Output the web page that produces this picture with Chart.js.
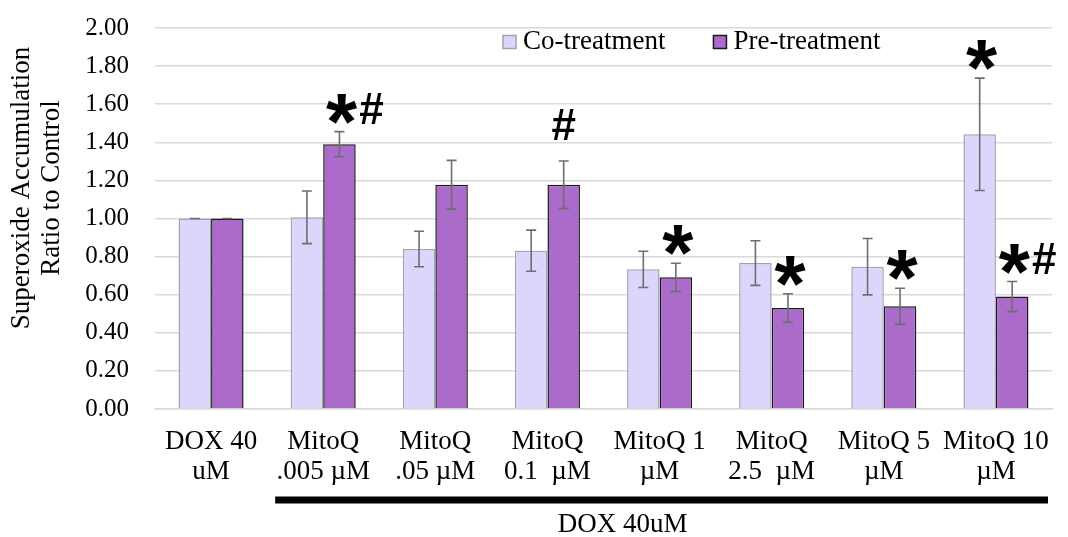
<!DOCTYPE html>
<html>
<head>
<meta charset="utf-8">
<script src="https://cdn.jsdelivr.net/npm/chart.js@4"></script>
<style>
  body { margin: 0; background: #fff; }
  #wrap { width: 1068px; height: 537px; }
</style>
</head>
<body>
<div id="wrap"><canvas id="grafico" width="1068" height="537"></canvas></div>
<script>
// dados
var categorias = [
    ["DOX 40", "uM"],
    ["MitoQ", ".005 \u00b5M"],
    ["MitoQ", ".05 \u00b5M"],
    ["MitoQ", "0.1  \u00b5M"],
    ["MitoQ 1", "\u00b5M"],
    ["MitoQ", "2.5  \u00b5M"],
    ["MitoQ 5", "\u00b5M"],
    ["MitoQ 10", "\u00b5M"]
];
var coTratamento = [1.00, 1.006, 0.84, 0.831, 0.733, 0.766, 0.747, 1.442];
var coErro = [0, 0.138, 0.093, 0.108, 0.095, 0.117, 0.148, 0.295];
var preTratamento = [1.00, 1.39, 1.177, 1.177, 0.691, 0.530, 0.539, 0.590];
var preErro = [0, 0.066, 0.128, 0.125, 0.074, 0.075, 0.095, 0.079];
var coMarcas = ["", "", "", "", "", "", "", "*"];
var preMarcas = ["", "*#", "", "#", "*", "*", "*", "*#"];
var tituloY = ["Superoxide Accumulation", "Ratio to Control"];
var rotuloGrupo = "DOX 40uM";

var serif = "'Liberation Serif', 'Times New Roman', serif";

// barras de erro + marcas de significancia
var pluginErro = {
    id: "erro",
    afterDatasetsDraw: function(chart) {
        var ctx = chart.ctx;
        var y = chart.scales.y;
        var erros = [coErro, preErro];
        var valores = [coTratamento, preTratamento];
        var marcas = [coMarcas, preMarcas];
        ctx.save();
        for (var d = 0; d < 2; d++) {
            var meta = chart.getDatasetMeta(d);
            meta.data.forEach(function(bar, i) {
                var v = valores[d][i], e = erros[d][i];
                var yt = y.getPixelForValue(v + e);
                var yb = y.getPixelForValue(v - e);
                ctx.strokeStyle = "#6e6e6e";
                ctx.lineWidth = 1.6;
                ctx.beginPath();
                ctx.moveTo(bar.x, yt); ctx.lineTo(bar.x, yb);
                ctx.moveTo(bar.x - 5, yt); ctx.lineTo(bar.x + 5, yt);
                ctx.moveTo(bar.x - 5, yb); ctx.lineTo(bar.x + 5, yb);
                ctx.stroke();

                var m = marcas[d][i];
                if (!m) return;
                var cy = yt - 23;
                if (m === "#") cy = yt - 36;
                var cx = bar.x + (m === "#" ? 0 : 2);
                for (var k = 0; k < m.length; k++) {
                    var ch = m[k];
                    ctx.font = ch === "*" ? "bold 80px 'Liberation Sans', Arial, sans-serif" : "bold 44px 'Liberation Sans', Arial, sans-serif";
                    ctx.fillStyle = "#000";
                    ctx.textAlign = "center";
                    ctx.textBaseline = "alphabetic";
                    var mt = ctx.measureText(ch);
                    var by = cy + (mt.actualBoundingBoxAscent - mt.actualBoundingBoxDescent) / 2;
                    ctx.fillText(ch, cx + k * 30, by);
                }
            });
        }
        ctx.restore();
    },
    afterDraw: function(chart) {
        var ctx = chart.ctx;
        var area = chart.chartArea;
        var x = chart.scales.x;
        ctx.save();
        // titulo do eixo y
        ctx.fillStyle = "#000";
        ctx.font = "27px " + serif;
        ctx.textAlign = "center";
        ctx.textBaseline = "middle";
        tituloY.forEach(function(t, i) {
            ctx.save();
            ctx.translate(22 + i * 30, 188);
            ctx.rotate(-Math.PI / 2);
            ctx.fillText(t, 0, 0);
            ctx.restore();
        });
        // legenda
        var lx = area.left + 348, ly = 42;
        chart.data.datasets.forEach(function(ds) {
            ctx.fillStyle = ds.backgroundColor;
            ctx.fillRect(lx, ly - 6.5, 13, 13);
            ctx.strokeStyle = ds.borderColor;
            ctx.lineWidth = 1.5;
            ctx.strokeRect(lx, ly - 6.5, 13, 13);
            ctx.fillStyle = "#000";
            ctx.font = "27px " + serif;
            ctx.textAlign = "left";
            ctx.fillText(ds.label, lx + 20, ly);
            lx += 20 + ctx.measureText(ds.label).width + 48;
        });
        // barra do grupo DOX
        var x0 = x.getPixelForValue(1) - 48;
        var x1 = area.right - 4;
        ctx.strokeStyle = "#000";
        ctx.lineWidth = 7;
        ctx.beginPath();
        ctx.moveTo(x0, 500); ctx.lineTo(x1, 500);
        ctx.stroke();
        ctx.fillStyle = "#000";
        ctx.font = "27px " + serif;
        ctx.textAlign = "center";
        ctx.fillText(rotuloGrupo, x.getPixelForValue(4) - 37, 525);
        ctx.restore();
    }
};

var ctx = document.getElementById("grafico").getContext("2d");
var grafico = new Chart(ctx, {
    type: "bar",
    data: {
        labels: categorias,
        datasets: [{
            label: "Co-treatment",
            data: coTratamento,
            backgroundColor: "#dcd6fc",
            borderColor: "#a4a2b0",
            borderWidth: 1.5
        }, {
            label: "Pre-treatment",
            data: preTratamento,
            backgroundColor: "#aa6bca",
            borderColor: "#1a1a1a",
            borderWidth: 1.5
        }]
    },
    options: {
        responsive: false,
        animation: false,
        layout: { padding: { top: 28, right: 16, left: 0, bottom: 0 } },
        datasets: { bar: { barPercentage: 1, categoryPercentage: 0.58 } },
        plugins: {
            legend: { display: false },
            tooltip: { enabled: false }
        },
        scales: {
            x: {
                grid: { display: false, drawTicks: false },
                border: { color: "#d9d9d9", width: 1.5 },
                ticks: {
                    color: "#000",
                    padding: 18,
                    maxRotation: 0,
                    autoSkip: false,
                    font: { family: serif, size: 27, lineHeight: 1.1 }
                },
                afterFit: function(s) { s.height = 128; }
            },
            y: {
                min: 0,
                max: 2,
                grid: { color: "#d9d9d9", lineWidth: 1.5, drawTicks: false },
                border: { display: false },
                ticks: {
                    stepSize: 0.2,
                    color: "#000",
                    padding: 26,
                    font: { family: serif, size: 25 },
                    callback: function(v) { return v.toFixed(2); }
                },
                afterFit: function(s) {
                    s.width = 155;
                    s.paddingTop = 0;
                    s.paddingBottom = 0;
                }
            }
        }
    },
    plugins: [pluginErro]
});
</script>
</body>
</html>
